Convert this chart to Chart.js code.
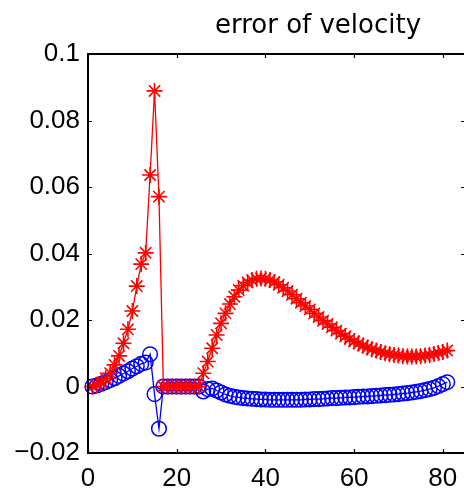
<!DOCTYPE html>
<html>
<head>
<meta charset="utf-8">
<script src="https://cdn.jsdelivr.net/npm/chart.js@4.4.0/dist/chart.umd.min.js"></script>
<style>
html, body { margin: 0; padding: 0; background: #fff; overflow: hidden; }
canvas { display: block; }
</style>
</head>
<body>
<canvas id="velChart" width="480" height="491"></canvas>
<script>
// sample index 1..81
let steps = [];
for (let i = 1; i <= 81; i++) steps.push(i);

let redErr = [
    0.0, 0.0004, 0.0012, 0.0025, 0.004, 0.0065, 0.0092, 0.013, 0.0172, 0.0227,
    0.0302, 0.0368, 0.0402, 0.0636, 0.0889, 0.0571, 0, 0, 0, 0,
    0, 0, 0, 0, 0, 0.004, 0.0075, 0.0115, 0.0155, 0.019,
    0.022, 0.0248, 0.027, 0.029, 0.0303, 0.0313, 0.032, 0.0324, 0.0325, 0.0324,
    0.032, 0.0314, 0.0306, 0.0297, 0.0287, 0.0276, 0.0264, 0.0252, 0.0242, 0.0232,
    0.022, 0.0209, 0.0198, 0.0188, 0.0178, 0.0168, 0.0159, 0.0151, 0.0143, 0.0136,
    0.0129, 0.0123, 0.0117, 0.0112, 0.0108, 0.0104, 0.01, 0.0097, 0.0095, 0.0093,
    0.0091, 0.009, 0.009, 0.009, 0.0091, 0.0093, 0.0095, 0.0098, 0.0101, 0.0104,
    0.0108
];

let blueErr = [
    0.0, 0.0003, 0.0008, 0.0013, 0.0019, 0.0025, 0.0032, 0.0039, 0.0046, 0.0054,
    0.0061, 0.0068, 0.0072, 0.0097, -0.0023, -0.0127, 0, 0, 0, 0,
    0, 0, 0, 0, 0, -0.0015, -0.0008, -0.0006, -0.0012, -0.0018,
    -0.0024, -0.0028, -0.0031, -0.0033, -0.0035, -0.0036, -0.0037, -0.0038, -0.0039, -0.0039,
    -0.004, -0.004, -0.004, -0.004, -0.004, -0.004, -0.004, -0.004, -0.0039, -0.0039,
    -0.0038, -0.0038, -0.0037, -0.0036, -0.0035, -0.0035, -0.0034, -0.0033, -0.0033, -0.0032,
    -0.0031, -0.003, -0.003, -0.0029, -0.0028, -0.0027, -0.0026, -0.0025, -0.0024, -0.0023,
    -0.0021, -0.002, -0.0018, -0.0016, -0.0014, -0.0011, -0.0008, -0.0004, 0.0001, 0.0007,
    0.0013
];

let xTicks = [0, 20, 40, 60, 80];
let yTicks = [-0.02, 0, 0.02, 0.04, 0.06, 0.08, 0.1];
let titleText = 'error of velocity';

function toPoints(vals) {
    return steps.map((s, i) => ({ x: s, y: vals[i] }));
}

function fmtY(v) {
    let s = String(Math.round(v * 100) / 100);
    return s.replace('-', '\u2212');
}

// matlab style box with inward ticks, plus the title
const matlabBox = {
    id: 'matlabBox',
    afterDraw(chart) {
        const ctx = chart.ctx;
        const a = chart.chartArea;
        const x = chart.scales.x;
        const y = chart.scales.y;
        const tl = 4;
        ctx.save();
        ctx.strokeStyle = '#000';
        ctx.lineWidth = 2;
        ctx.strokeRect(a.left, a.top, a.right - a.left, a.bottom - a.top);
        ctx.lineWidth = 1.2;
        ctx.beginPath();
        xTicks.forEach(v => {
            let px = Math.round(x.getPixelForValue(v)) + 0.5;
            ctx.moveTo(px, a.bottom); ctx.lineTo(px, a.bottom - tl);
            ctx.moveTo(px, a.top); ctx.lineTo(px, a.top + tl);
        });
        yTicks.forEach(v => {
            let py = Math.round(y.getPixelForValue(v)) + 0.5;
            ctx.moveTo(a.left, py); ctx.lineTo(a.left + tl, py);
            ctx.moveTo(a.right, py); ctx.lineTo(a.right - tl, py);
        });
        ctx.stroke();

        ctx.fillStyle = '#000';
        ctx.font = '26px "DejaVu Sans"';
        ctx.textAlign = 'center';
        ctx.textBaseline = 'alphabetic';
        ctx.fillText(titleText, 318, 33);
        ctx.restore();
    }
};

let ctx = document.getElementById('velChart').getContext('2d');
let velChart = new Chart(ctx, {
    type: 'line',
    data: {
        datasets: [{
            label: 'red',
            data: toPoints(redErr),
            borderColor: '#ff0000',
            backgroundColor: 'rgba(0,0,0,0)',
            borderWidth: 1.3,
            pointStyle: 'star',
            pointRadius: 8,
            pointBorderWidth: 1.6,
            pointBorderColor: '#ff0000',
            tension: 0
        }, {
            label: 'blue',
            data: toPoints(blueErr),
            borderColor: '#0000ff',
            backgroundColor: 'rgba(0,0,0,0)',
            borderWidth: 1.3,
            pointStyle: 'circle',
            pointRadius: 7.3,
            pointBorderWidth: 1.5,
            pointBorderColor: '#0000ff',
            pointBackgroundColor: 'rgba(0,0,0,0)',
            tension: 0
        }]
    },
    options: {
        responsive: false,
        animation: false,
        clip: false,
        layout: {
            padding: { top: 54, right: 15, left: 0, bottom: 0 }
        },
        plugins: {
            legend: { display: false },
            tooltip: { enabled: false }
        },
        scales: {
            x: {
                type: 'linear',
                min: 0,
                max: 85,
                grid: { display: false, drawTicks: false },
                border: { display: false },
                afterBuildTicks: s => { s.ticks = xTicks.map(v => ({ value: v })); },
                afterFit: s => { s.height = 38; },
                ticks: {
                    color: '#000',
                    padding: 10,
                    maxRotation: 0,
                    font: { family: 'Liberation Sans', size: 26 }
                }
            },
            y: {
                type: 'linear',
                min: -0.02,
                max: 0.1,
                grid: { display: false, drawTicks: false },
                border: { display: false },
                afterBuildTicks: s => { s.ticks = yTicks.map(v => ({ value: v })); },
                afterFit: s => { s.width = 88; },
                ticks: {
                    color: '#000',
                    padding: 8,
                    callback: v => fmtY(v),
                    font: { family: 'Liberation Sans', size: 26 }
                }
            }
        }
    },
    plugins: [matlabBox]
});
</script>
</body>
</html>
